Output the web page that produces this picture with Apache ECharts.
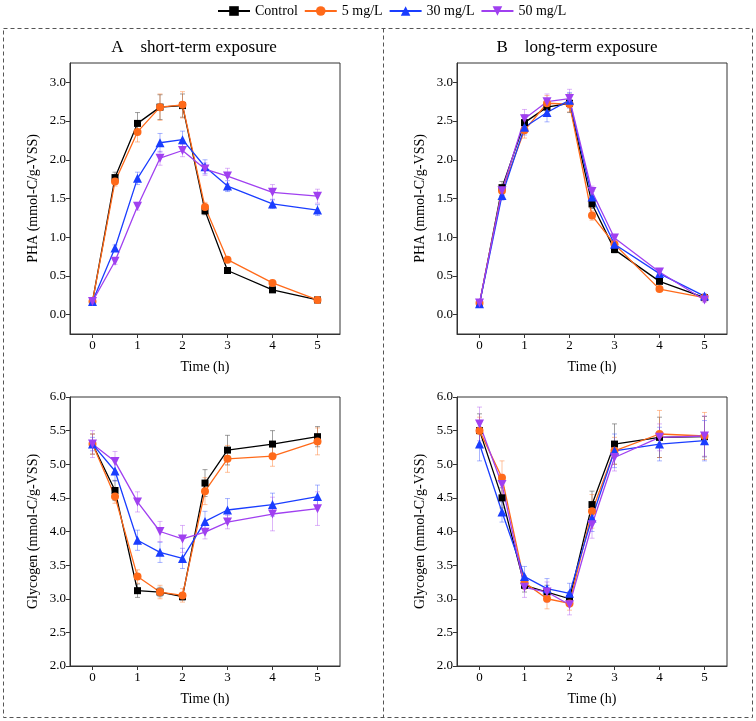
<!DOCTYPE html>
<html>
<head>
<meta charset="utf-8">
<script src="https://cdn.jsdelivr.net/npm/echarts@6/dist/echarts.min.js"></script>
<style>html,body{margin:0;padding:0;background:#fff;}#c{width:756px;height:721px;}</style>
</head>
<body>
<div id="c"></div>
<script>
// ---- data ----
const times = [0, 0.5, 1, 1.5, 2, 2.5, 3, 4, 5];
const seriesNames = ['Control', '5 mg/L', '30 mg/L', '50 mg/L'];
const xTicks = [0, 1, 2, 3, 4, 5];
const phaTicks = [0, 0.5, 1.0, 1.5, 2.0, 2.5, 3.0];
const glyTicks = [2.0, 2.5, 3.0, 3.5, 4.0, 4.5, 5.0, 5.5, 6.0];
const panelTitles = ['A\u2003short-term exposure', 'B\u2003long-term exposure'];
const phaTitle = 'PHA (mmol-C/g-VSS)';
const glyTitle = 'Glycogen (mmol-C/g-VSS)';
const xTitle = 'Time (h)';

// A: short-term PHA
const phaA_control = [0.17, 1.77, 2.47, 2.68, 2.70, 1.34, 0.57, 0.32, 0.19];
const phaA_5 = [0.17, 1.72, 2.36, 2.68, 2.71, 1.39, 0.71, 0.41, 0.19];
const phaA_30 = [0.17, 0.86, 1.76, 2.22, 2.26, 1.91, 1.66, 1.43, 1.35];
const phaA_50 = [0.17, 0.69, 1.40, 2.02, 2.12, 1.88, 1.79, 1.58, 1.53];
const phaA_control_err = [0.02, 0.07, 0.14, 0.16, 0.15, 0.05, 0.03, 0.02, 0.02];
const phaA_5_err = [0.02, 0.06, 0.13, 0.17, 0.17, 0.06, 0.03, 0.03, 0.02];
const phaA_30_err = [0.02, 0.04, 0.08, 0.12, 0.11, 0.09, 0.07, 0.06, 0.07];
const phaA_50_err = [0.02, 0.04, 0.05, 0.09, 0.08, 0.08, 0.10, 0.10, 0.09];

// B: long-term PHA
const phaB_control = [0.14, 1.64, 2.48, 2.68, 2.73, 1.43, 0.84, 0.43, 0.22];
const phaB_5 = [0.15, 1.60, 2.38, 2.73, 2.72, 1.28, 0.91, 0.33, 0.22];
const phaB_30 = [0.14, 1.54, 2.42, 2.61, 2.77, 1.52, 0.91, 0.53, 0.24];
const phaB_50 = [0.15, 1.60, 2.53, 2.75, 2.79, 1.59, 0.99, 0.55, 0.19];
const phaB_control_err = [0.02, 0.08, 0.10, 0.10, 0.12, 0.06, 0.04, 0.03, 0.03];
const phaB_5_err = [0.02, 0.06, 0.10, 0.10, 0.10, 0.06, 0.03, 0.03, 0.02];
const phaB_30_err = [0.02, 0.06, 0.10, 0.12, 0.10, 0.07, 0.04, 0.03, 0.03];
const phaB_50_err = [0.02, 0.06, 0.12, 0.10, 0.12, 0.07, 0.04, 0.03, 0.03];

// A: short-term glycogen
const glyA_control = [5.30, 4.61, 3.12, 3.10, 3.03, 4.72, 5.21, 5.30, 5.41];
const glyA_5 = [5.30, 4.52, 3.33, 3.10, 3.05, 4.60, 5.08, 5.12, 5.34];
const glyA_30 = [5.30, 4.90, 3.87, 3.69, 3.60, 4.15, 4.32, 4.40, 4.52];
const glyA_50 = [5.30, 5.04, 4.44, 4.00, 3.89, 3.99, 4.14, 4.26, 4.34];
const glyA_control_err = [0.15, 0.15, 0.10, 0.07, 0.05, 0.20, 0.22, 0.20, 0.15];
const glyA_5_err = [0.15, 0.10, 0.10, 0.10, 0.10, 0.20, 0.20, 0.15, 0.20];
const glyA_30_err = [0.10, 0.15, 0.15, 0.15, 0.15, 0.15, 0.17, 0.17, 0.17];
const glyA_50_err = [0.20, 0.15, 0.15, 0.15, 0.20, 0.10, 0.10, 0.25, 0.25];

// B: long-term glycogen
const glyB_control = [5.50, 4.50, 3.20, 3.10, 3.00, 4.40, 5.30, 5.40, 5.41];
const glyB_5 = [5.50, 4.80, 3.24, 3.00, 2.93, 4.30, 5.20, 5.45, 5.42];
const glyB_30 = [5.30, 4.29, 3.33, 3.15, 3.08, 4.20, 5.20, 5.30, 5.35];
const glyB_50 = [5.60, 4.70, 3.17, 3.10, 2.91, 4.10, 5.10, 5.40, 5.42];
const glyB_control_err = [0.25, 0.15, 0.10, 0.10, 0.10, 0.20, 0.30, 0.30, 0.30];
const glyB_5_err = [0.20, 0.25, 0.10, 0.15, 0.10, 0.25, 0.20, 0.35, 0.35];
const glyB_30_err = [0.25, 0.15, 0.15, 0.15, 0.15, 0.20, 0.25, 0.25, 0.30];
const glyB_50_err = [0.25, 0.15, 0.15, 0.15, 0.15, 0.20, 0.20, 0.20, 0.30];

// ---- styles ----
const colors = ['#000000', '#FF6A1A', '#1A3DFF', '#A040F0'];
const errColors = ['rgba(80,80,80,0.55)', 'rgba(255,120,40,0.45)', 'rgba(40,70,255,0.4)', 'rgba(170,70,240,0.4)'];
const symbols = ['rect', 'circle', 'triangle', 'triangle'];
const symbolSizes = [7, 8, 9, 9];
const symbolRotates = [0, 0, 0, 180];
const FONT = 'Liberation Serif';

const panels = [
  {vals: [phaA_control, phaA_5, phaA_30, phaA_50], errs: [phaA_control_err, phaA_5_err, phaA_30_err, phaA_50_err]},
  {vals: [phaB_control, phaB_5, phaB_30, phaB_50], errs: [phaB_control_err, phaB_5_err, phaB_30_err, phaB_50_err]},
  {vals: [glyA_control, glyA_5, glyA_30, glyA_50], errs: [glyA_control_err, glyA_5_err, glyA_30_err, glyA_50_err]},
  {vals: [glyB_control, glyB_5, glyB_30, glyB_50], errs: [glyB_control_err, glyB_5_err, glyB_30_err, glyB_50_err]}
];

const gridDefs = [
  {left: 70, top: 63, width: 270, height: 271},
  {left: 457, top: 63, width: 270, height: 271},
  {left: 70, top: 397, width: 270, height: 269},
  {left: 457, top: 397, width: 270, height: 269}
];

const axisColor = '#333';
const grids = gridDefs.map(g => Object.assign({show: true, borderColor: axisColor, borderWidth: 1, backgroundColor: 'transparent'}, g));

const xAxes = gridDefs.map((g, i) => ({
  type: 'value', gridIndex: i, min: -0.5, max: 5.5,
  name: xTitle, nameLocation: 'middle', nameGap: 26,
  nameTextStyle: {fontFamily: FONT, fontSize: 14, color: '#000'},
  axisLine: {show: true, onZero: false, lineStyle: {color: axisColor, width: 1}},
  axisTick: {show: true, inside: false, length: 4, customValues: xTicks, lineStyle: {color: axisColor}},
  axisLabel: {customValues: xTicks, margin: 5, fontFamily: FONT, fontSize: 13, color: '#000'},
  splitLine: {show: false}
}));

const yAxes = gridDefs.map((g, i) => {
  const isPha = i < 2;
  const ticks = isPha ? phaTicks : glyTicks;
  return {
    type: 'value', gridIndex: i,
    min: isPha ? -0.25 : 2, max: isPha ? 3.25 : 6,
    name: isPha ? phaTitle : glyTitle, nameLocation: 'middle', nameGap: 30,
    nameTextStyle: {fontFamily: FONT, fontSize: 14, color: '#000'},
    axisLine: {show: true, onZero: false, lineStyle: {color: axisColor, width: 1}},
    axisTick: {show: true, inside: false, length: 4, customValues: ticks, lineStyle: {color: axisColor}},
    axisLabel: {customValues: ticks, margin: 4, fontFamily: FONT, fontSize: 13, color: '#000',
      formatter: v => v.toFixed(1)},
    splitLine: {show: false}
  };
});

function errRender(colorIdx) {
  return function (params, api) {
    const x = api.value(0), y = api.value(1), e = api.value(2);
    const lo = api.coord([x, y - e]);
    const hi = api.coord([x, y + e]);
    const w = 2.5;
    const style = {stroke: errColors[colorIdx], lineWidth: 1};
    return {
      type: 'group',
      children: [
        {type: 'line', shape: {x1: lo[0], y1: lo[1], x2: hi[0], y2: hi[1]}, style: style},
        {type: 'line', shape: {x1: lo[0] - w, y1: lo[1], x2: lo[0] + w, y2: lo[1]}, style: style},
        {type: 'line', shape: {x1: hi[0] - w, y1: hi[1], x2: hi[0] + w, y2: hi[1]}, style: style}
      ]
    };
  };
}

const series = [];
panels.forEach((p, pi) => {
  for (let s = 0; s < 4; s++) {
    series.push({
      type: 'custom', name: 'err' + pi + '_' + s, xAxisIndex: pi, yAxisIndex: pi,
      renderItem: errRender(s), silent: true, z: 1,
      data: times.map((t, k) => [t, p.vals[s][k], p.errs[s][k]])
    });
  }
  for (let s = 0; s < 4; s++) {
    series.push({
      type: 'line', name: seriesNames[s], xAxisIndex: pi, yAxisIndex: pi,
      data: times.map((t, k) => [t, p.vals[s][k]]),
      symbol: symbols[s], symbolSize: symbolSizes[s], symbolRotate: symbolRotates[s],
      showAllSymbol: true, z: 3,
      lineStyle: {color: colors[s], width: 1.3},
      itemStyle: {color: colors[s], borderWidth: 0},
      animation: false
    });
  }
});

const option = {
  animation: false,
  backgroundColor: '#fff',
  legend: {
    data: seriesNames, top: 4, left: 217, itemWidth: 32, itemHeight: 12, itemGap: 6,
    textStyle: {fontFamily: FONT, fontSize: 14, color: '#000'}, padding: 0
  },
  grid: grids,
  xAxis: xAxes,
  yAxis: yAxes,
  series: series,
  graphic: [
    {type: 'rect', shape: {x: 3.5, y: 28.5, width: 749, height: 689}, style: {fill: 'none', stroke: '#555', lineWidth: 1, lineDash: [4, 3]}, silent: true},
    {type: 'line', shape: {x1: 383.5, y1: 28.5, x2: 383.5, y2: 717.5}, style: {stroke: '#555', lineWidth: 1, lineDash: [4, 3]}, silent: true},
    {type: 'text', x: 194, y: 48, style: {text: panelTitles[0], font: '17px "Liberation Serif"', fill: '#000', textAlign: 'center', textVerticalAlign: 'middle'}},
    {type: 'text', x: 577, y: 48, style: {text: panelTitles[1], font: '17px "Liberation Serif"', fill: '#000', textAlign: 'center', textVerticalAlign: 'middle'}}
  ]
};

const chart = echarts.init(document.getElementById('c'), null, {renderer: 'canvas'});
chart.setOption(option);
</script>
</body>
</html>
